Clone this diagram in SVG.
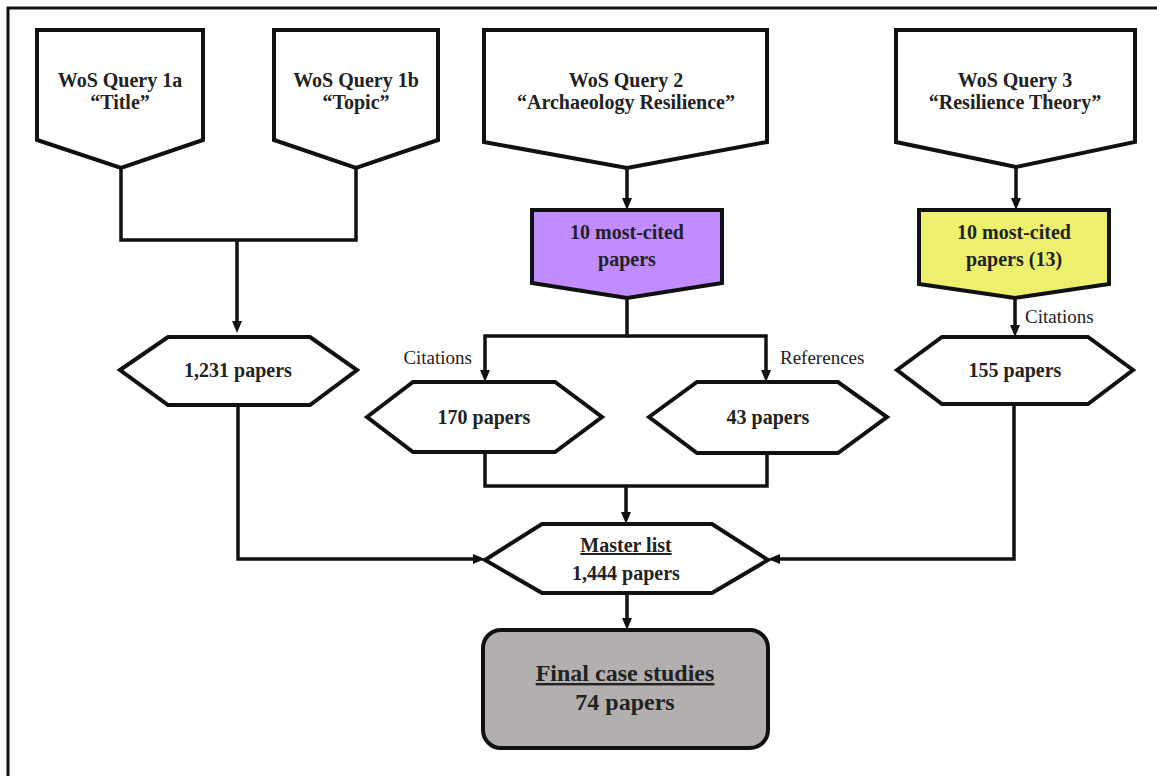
<svg xmlns="http://www.w3.org/2000/svg" width="1157" height="776" viewBox="0 0 1157 776">
<style>
.shape{stroke:#111;stroke-width:4;stroke-linejoin:miter;fill:#fff}
.purple{fill:#c08cff}
.yellow{fill:#ecf06c}
.grey{fill:#b3afaf}
.conn{fill:none;stroke:#111;stroke-width:3.5;stroke-linejoin:miter}
.t{font-family:"Liberation Serif","Times New Roman",serif;font-weight:bold;font-size:20px;fill:#222;text-anchor:middle}
.lbl{font-family:"Liberation Serif","Times New Roman",serif;font-weight:normal;font-size:19px;fill:#222}
.big{font-size:24px}
</style>
<defs>
<marker id="arr" viewBox="0 0 12 10" refX="6" refY="5" markerWidth="12" markerHeight="10" markerUnits="userSpaceOnUse" orient="auto">
<path d="M0,0 L12,5 L0,10 z" fill="#111"/>
</marker>
</defs>
<rect width="1157" height="776" fill="#fff"/>
<path d="M8,776 L8,8 L1157,8" fill="none" stroke="#111" stroke-width="3"/>

<g id="connectors">
<path class="conn" d="M121,168 V240 H356 V168"/>
<path class="conn" d="M237,240 V327" marker-end="url(#arr)"/>
<path class="conn" d="M627,168 V204" marker-end="url(#arr)"/>
<path class="conn" d="M1016,167 V204" marker-end="url(#arr)"/>
<path class="conn" d="M627,298 V336 H485 V376" marker-end="url(#arr)"/>
<path class="conn" d="M627,336 H766 V376" marker-end="url(#arr)"/>
<path class="conn" d="M1015,298 V331" marker-end="url(#arr)"/>
<path class="conn" d="M485,452 V486 H767 V453"/>
<path class="conn" d="M626,486 V518" marker-end="url(#arr)"/>
<path class="conn" d="M238,405 V559 H479" marker-end="url(#arr)"/>
<path class="conn" d="M1014,404 V559 H774" marker-end="url(#arr)"/>
<path class="conn" d="M627,593 V624" marker-end="url(#arr)"/>
</g>

<g id="q1a">
<polygon class="shape" points="37,30 203,30 203,140 121,168 37,140"/>
<text class="t" x="120" y="87">WoS Query 1a</text>
<text class="t" x="120" y="109">“Title”</text>
</g>
<g id="q1b">
<polygon class="shape" points="274,30 438,30 438,140 356,168 274,140"/>
<text class="t" x="356" y="87">WoS Query 1b</text>
<text class="t" x="356" y="109">“Topic”</text>
</g>
<g id="q2">
<polygon class="shape" points="484,30 767,30 767,142 627,168 484,142"/>
<text class="t" x="626" y="87">WoS Query 2</text>
<text class="t" x="626" y="109">“Archaeology Resilience”</text>
</g>
<g id="q3">
<polygon class="shape" points="896,30 1135,30 1135,142 1016,167 896,142"/>
<text class="t" x="1015" y="87">WoS Query 3</text>
<text class="t" x="1015" y="109">“Resilience Theory”</text>
</g>

<g id="top10-arch">
<polygon class="shape purple" points="532,210 722,210 722,283 627,298 532,283"/>
<text class="t" x="627" y="239">10 most-cited</text>
<text class="t" x="627" y="266">papers</text>
</g>
<g id="top10-theory">
<polygon class="shape yellow" points="919,210 1109,210 1109,284 1015,298 919,284"/>
<text class="t" x="1014" y="239">10 most-cited</text>
<text class="t" x="1014" y="266">papers (13)</text>
</g>

<g id="labels">
<text class="lbl" x="472" y="364" text-anchor="end">Citations</text>
<text class="lbl" x="780" y="364">References</text>
<text class="lbl" x="1025" y="323">Citations</text>
</g>

<g id="p1231">
<polygon class="shape" points="120,370 168,337 310,337 357,370 310,405 168,405"/>
<text class="t" x="238" y="377">1,231 papers</text>
</g>
<g id="p170">
<polygon class="shape" points="367,417 413,382 555,382 602,417 555,452 413,452"/>
<text class="t" x="484" y="424">170 papers</text>
</g>
<g id="p43">
<polygon class="shape" points="649,417 697,382 838,382 887,417 838,453 697,453"/>
<text class="t" x="768" y="424">43 papers</text>
</g>
<g id="p155">
<polygon class="shape" points="897,370 942,337 1088,337 1133,370 1088,404 942,404"/>
<text class="t" x="1015" y="377">155 papers</text>
</g>

<g id="master">
<polygon class="shape" points="485,560 542,524 712,524 768,560 712,593 542,593"/>
<text class="t" x="626" y="552" text-decoration="underline">Master list</text>
<text class="t" x="626" y="580">1,444 papers</text>
</g>

<g id="final">
<rect class="shape grey" x="483" y="630" width="285" height="118" rx="18" ry="18"/>
<text class="t big" x="625" y="681" text-decoration="underline">Final case studies</text>
<text class="t big" x="625" y="710">74 papers</text>
</g>
</svg>
